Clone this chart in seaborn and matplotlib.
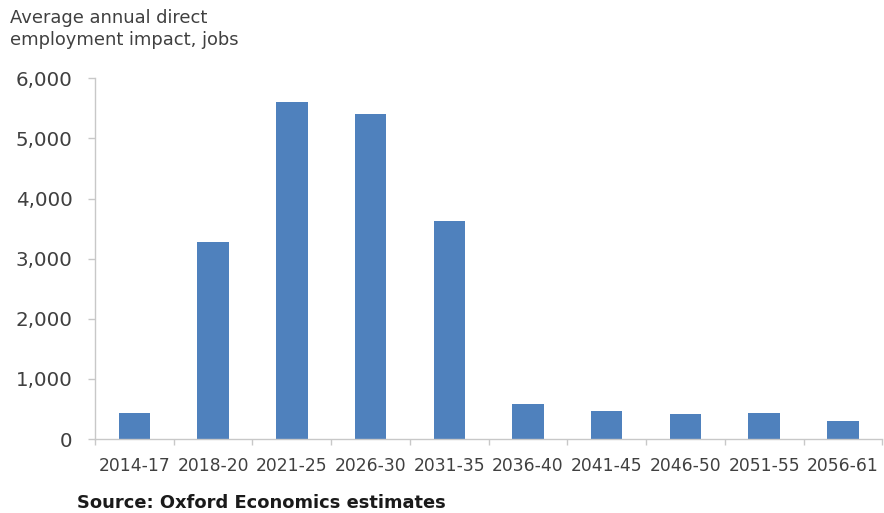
import matplotlib
matplotlib.use("Agg")
import matplotlib.pyplot as plt
import seaborn as sns
import pandas as pd
from matplotlib.ticker import FuncFormatter, FixedLocator

periods = ["2014-17", "2018-20", "2021-25", "2026-30", "2031-35",
           "2036-40", "2041-45", "2046-50", "2051-55", "2056-61"]
jobs = [425, 3275, 5600, 5400, 3630, 590, 460, 410, 430, 305]
y_ticks = [0, 1000, 2000, 3000, 4000, 5000, 6000]

sns.set_style("white")
plt.rcParams["font.family"] = ["DejaVu Sans"]

text_color = "#404040"
axis_color = "#c8c8c8"

df = pd.DataFrame({"period": periods, "jobs": jobs})

fig = plt.figure(figsize=(8.84, 5.13), dpi=100)
ax = fig.add_axes([0.1075, 0.1442, 0.8905, 0.7032])

sns.barplot(data=df, x="period", y="jobs", color="#4F81BD", saturation=1,
            width=0.4, ax=ax, edgecolor="none")

ax.set_xlim(-0.5, len(periods) - 0.5)
ax.set_ylim(0, 6000)
ax.set_yticks(y_ticks)
ax.yaxis.set_major_formatter(FuncFormatter(lambda v, p: f"{int(v):,}"))

# category boundary tick marks on the x axis
ax.xaxis.set_minor_locator(FixedLocator([i - 0.5 for i in range(len(periods) + 1)]))
ax.tick_params(axis="x", which="major", length=0, pad=13, labelsize=12.3,
               labelcolor=text_color)
ax.tick_params(axis="x", which="minor", length=4, width=1, color=axis_color,
               direction="out", bottom=True)
ax.tick_params(axis="y", which="major", length=5, width=1, color=axis_color,
               direction="out", left=True, pad=11, labelsize=14.3,
               labelcolor=text_color)

ax.set_xlabel("")
ax.set_ylabel("")
for side in ["top", "right"]:
    ax.spines[side].set_visible(False)
for side in ["left", "bottom"]:
    ax.spines[side].set_color(axis_color)
    ax.spines[side].set_linewidth(1)

# axis title, two lines placed by baseline
fig.text(10 / 884, 1 - 23 / 513, "Average annual direct",
         ha="left", va="baseline", fontsize=12.9, color=text_color)
fig.text(10 / 884, 1 - 45 / 513, "employment impact, jobs",
         ha="left", va="baseline", fontsize=12.9, color=text_color)
fig.text(77 / 884, 1 - 508 / 513, "Source: Oxford Economics estimates",
         ha="left", va="baseline", fontsize=12.9, fontweight="bold", color="#1a1a1a")

fig.savefig("out.png", dpi=100)
